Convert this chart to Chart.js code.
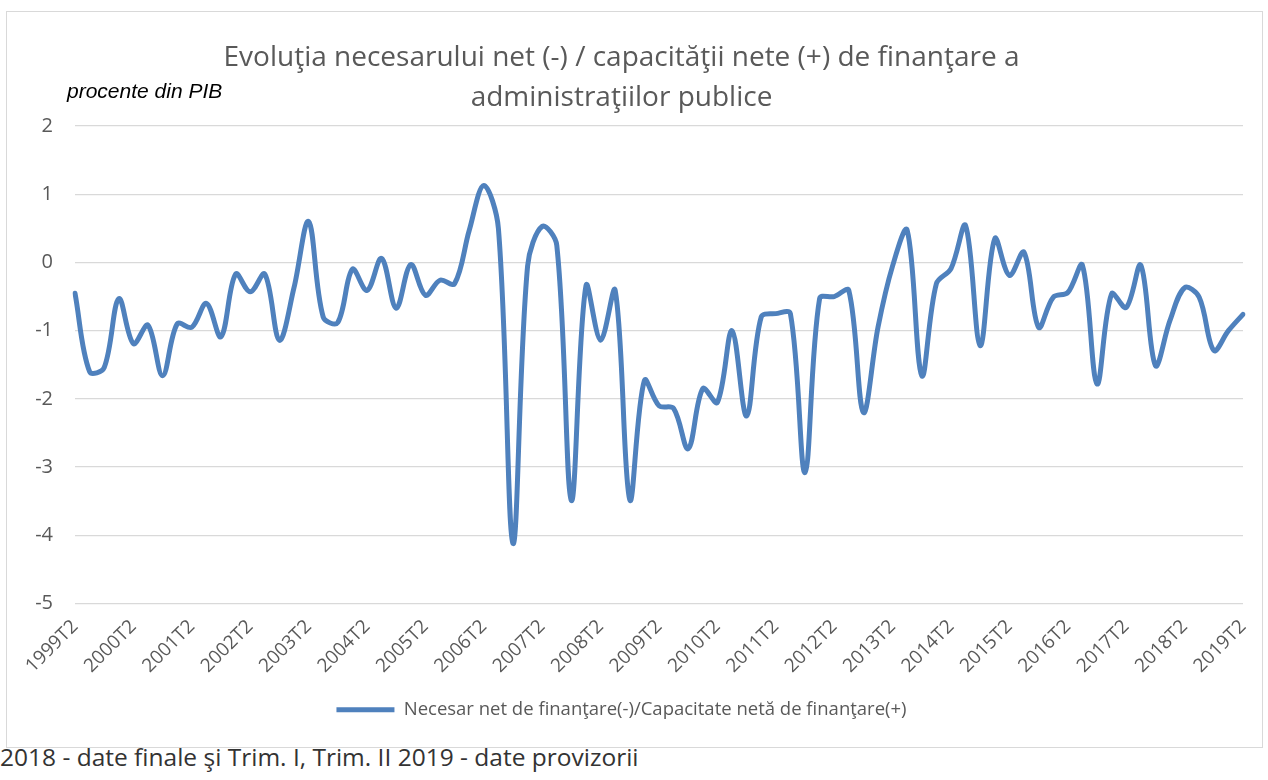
<!DOCTYPE html>
<html>
<head>
<meta charset="utf-8">
<script src="https://cdn.jsdelivr.net/npm/chart.js@4.4.1/dist/chart.umd.min.js"></script>
<style>
  body { margin: 0; background: #fff; }
  #wrap { position: relative; width: 1268px; height: 780px; overflow: hidden; }
  #frame { position: absolute; left: 6px; top: 11px; width: 1255px; height: 735px; border: 1px solid #d9d9d9; }
  #box { position: absolute; left: 0; top: 0; width: 1268px; height: 729px; }
  #unit { position: absolute; left: 67px; top: 79px; font: italic 21px "Liberation Sans", Arial, sans-serif; color: #000; }
  #note { position: absolute; left: 0; top: 740px; font: 24.5px "Open Sans", sans-serif; color: #333; white-space: nowrap; }
</style>
</head>
<body>
<div id="wrap">
  <div id="frame"></div>
  <div id="box"><canvas id="grafic"></canvas></div>
  <div id="unit">procente din PIB</div>
  <div id="note">2018 - date finale şi Trim. I, Trim. II 2019 - date provizorii</div>
</div>
<script>
// trimestre 1999T2 ... 2019T2
const ani = [1999, 2000, 2001, 2002, 2003, 2004, 2005, 2006, 2007, 2008, 2009,
             2010, 2011, 2012, 2013, 2014, 2015, 2016, 2017, 2018, 2019];
const trimestre = [];
ani.forEach(function (an) {
  for (let t = 1; t <= 4; t++) {
    if ((an === 1999 && t < 2) || (an === 2019 && t > 2)) continue;
    trimestre.push(an + "T" + t);
  }
});

// necesar (-) / capacitate (+) de finantare, % din PIB
const valori = [
  -0.45, -1.6, -1.54, -0.53, -1.19, -0.92, -1.66, -0.9,              // 1999T2 - 2001T1
  -0.95, -0.6, -1.09, -0.17, -0.43, -0.17, -1.14, -0.37,             // 2001T2 - 2003T1
  0.6, -0.8, -0.88, -0.1, -0.41, 0.06, -0.67, -0.03,                 // 2003T2 - 2005T1
  -0.48, -0.26, -0.31, 0.47, 1.13, 0.5, -4.12, -0.05,                // 2005T2 - 2007T1
  0.53, 0.25, -3.49, -0.34, -1.14, -0.41, -3.48, -1.73,              // 2007T2 - 2009T1
  -2.1, -2.14, -2.73, -1.85, -2.05, -1.0, -2.25, -0.8,               // 2009T2 - 2011T1
  -0.75, -0.75, -3.08, -0.53, -0.5, -0.41, -2.2, -0.95,              // 2011T2 - 2013T1
  -0.05, 0.47, -1.66, -0.31, -0.09, 0.54, -1.22, 0.35,               // 2013T2 - 2015T1
  -0.19, 0.15, -0.95, -0.51, -0.44, -0.04, -1.78, -0.46,             // 2015T2 - 2017T1
  -0.66, -0.04, -1.51, -0.85, -0.37, -0.51, -1.29, -1.0,             // 2017T2 - 2019T1
  -0.76                                                              // 2019T2
];

const yTicks = [-5, -4, -3, -2, -1, 0, 1, 2];
const culoare = "#4F81BD";
const gri = "#595959";

new Chart(document.getElementById("grafic"), {
  type: "line",
  data: {
    labels: trimestre,
    datasets: [{
      label: "Necesar net de finanţare(-)/Capacitate netă de finanţare(+)",
      data: valori,
      borderColor: culoare,
      backgroundColor: culoare,
      borderWidth: 5,
      pointRadius: 0,
      tension: 0.35,
      borderCapStyle: "round",
      borderJoinStyle: "round"
    }]
  },
  options: {
    responsive: true,
    maintainAspectRatio: false,
    animation: false,
    layout: { padding: { left: 0, right: 25, top: 0, bottom: 0 } },
    plugins: {
      title: {
        display: true,
        text: ["Evoluţia necesarului net (-) / capacităţii nete (+) de finanţare a",
               "administraţiilor publice"],
        color: gri,
        font: { family: "'Open Sans', sans-serif", size: 28, weight: "normal", lineHeight: 1.43 },
        padding: { top: 38, bottom: 8 }
      },
      legend: {
        position: "bottom",
        labels: {
          color: gri,
          font: { family: "'Open Sans', sans-serif", size: 18.5 },
          boxWidth: 58,
          boxHeight: 5,
          generateLabels: function (chart) {
            return Chart.defaults.plugins.legend.labels.generateLabels(chart).map(function (l) {
              l.lineWidth = 0;
              l.fillStyle = culoare;
              return l;
            });
          }
        }
      },
      tooltip: { enabled: false }
    },
    scales: {
      x: {
        grid: { display: false },
        border: { display: false },
        afterFit: function (s) { s.height = 87; },
        ticks: {
          autoSkip: false,
          minRotation: 45,
          maxRotation: 45,
          color: gri,
          padding: 4,
          font: { family: "'Open Sans', sans-serif", size: 19 },
          callback: function (v, i) { return i % 4 === 0 ? trimestre[i] : ""; }
        }
      },
      y: {
        min: -5,
        max: 2,
        afterFit: function (s) { s.width = 75; },
        afterBuildTicks: function (s) { s.ticks = yTicks.map(function (v) { return { value: v }; }); },
        grid: { color: "#d9d9d9", lineWidth: 1.3, drawTicks: false },
        border: { display: false },
        ticks: {
          color: gri,
          padding: 22,
          font: { family: "'Open Sans', sans-serif", size: 20 }
        }
      }
    }
  }
});
</script>
</body>
</html>
